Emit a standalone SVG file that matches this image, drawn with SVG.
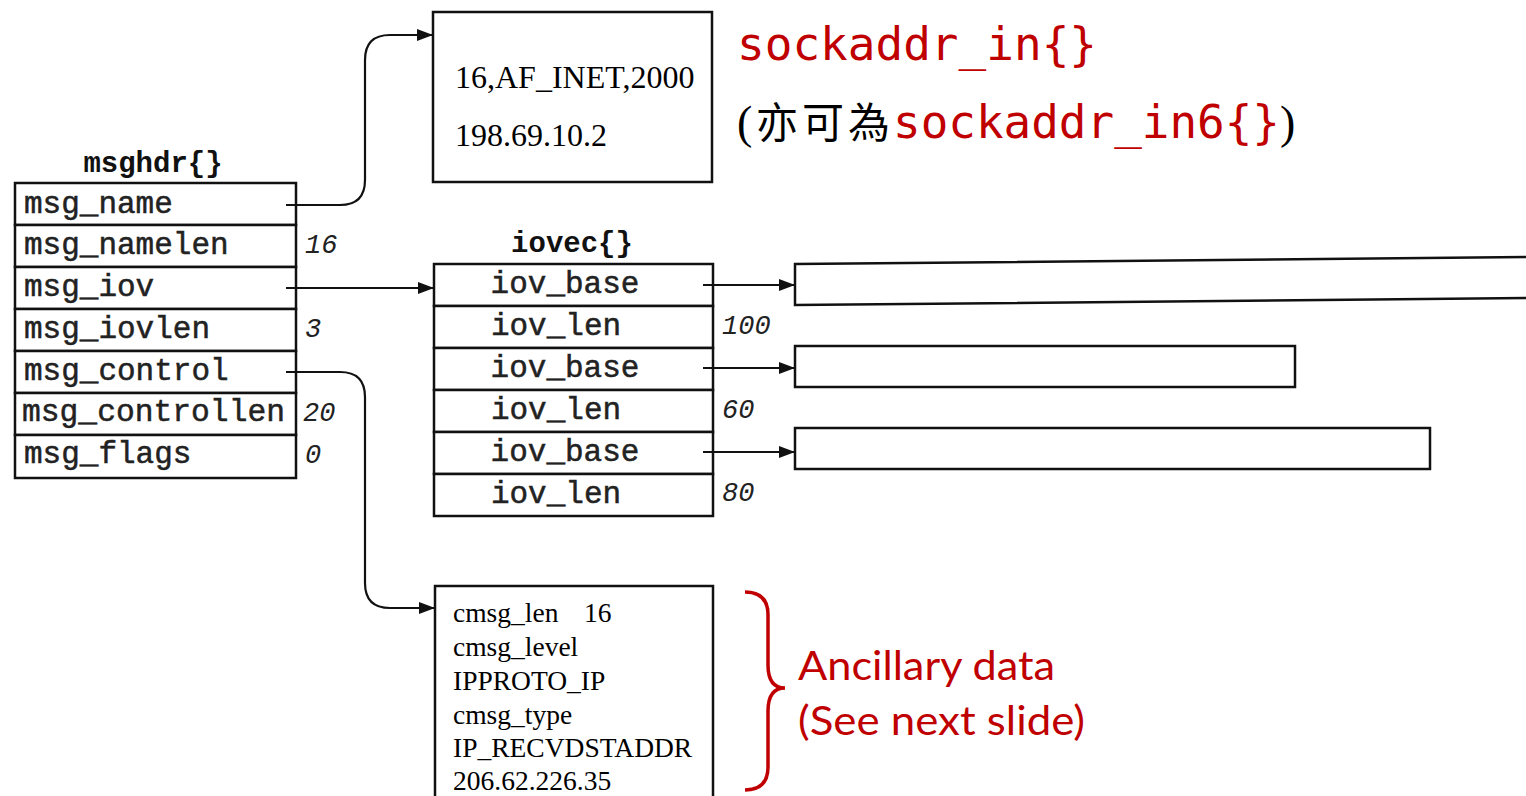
<svg xmlns="http://www.w3.org/2000/svg" width="1526" height="796" viewBox="0 0 1526 796">
<style>
.box{fill:#fff;stroke:#111;stroke-width:2.5}
.ln{fill:none;stroke:#111;stroke-width:2.2}
.fld{font-family:"Liberation Mono",monospace;font-size:31px;fill:#222;stroke:#222;stroke-width:0.5}
.ttl{font-family:"Liberation Mono",monospace;font-size:29px;font-weight:bold;fill:#111}
.val{font-family:"Liberation Mono",monospace;font-size:27px;font-style:italic;fill:#222}
.tm{font-family:"Liberation Serif",serif;fill:#000}
.red{fill:#C00000}
.mono{font-family:"DejaVu Sans Mono",monospace;font-size:46px}
.sans{font-family:"Lato","Open Sans",sans-serif;font-size:40px;fill:#C00000}
</style>
<defs>
<marker id="ah" viewBox="0 0 16 12" refX="16" refY="6" markerWidth="16" markerHeight="12" markerUnits="userSpaceOnUse" orient="auto">
<path d="M0,0 L16,6 L0,12 Z" fill="#111"/>
</marker>
</defs>

<g id="msghdr">
<text class="ttl" x="153" y="172" text-anchor="middle">msghdr{}</text>
<rect class="box" x="15" y="183" width="281" height="42"/>
<rect class="box" x="15" y="225" width="281" height="42"/>
<rect class="box" x="15" y="267" width="281" height="42"/>
<rect class="box" x="15" y="309" width="281" height="42"/>
<rect class="box" x="15" y="351" width="281" height="42"/>
<rect class="box" x="15" y="393" width="281" height="42"/>
<rect class="box" x="15" y="435" width="281" height="43"/>
<text class="fld" x="24" y="213">msg_name</text>
<text class="fld" x="24" y="254">msg_namelen</text>
<text class="fld" x="24" y="296">msg_iov</text>
<text class="fld" x="24" y="338">msg_iovlen</text>
<text class="fld" x="24" y="380">msg_control</text>
<text class="fld" x="22" y="421" textLength="263" lengthAdjust="spacingAndGlyphs">msg_controllen</text>
<text class="fld" x="24" y="463">msg_flags</text>
<text class="val" x="305" y="253">16</text>
<text class="val" x="305" y="337">3</text>
<text class="val" x="303" y="421">20</text>
<text class="val" x="305" y="463">0</text>
</g>

<g id="sockaddr">
<rect class="box" x="433" y="12" width="279" height="170"/>
<text class="tm" x="455" y="88" font-size="32">16,AF_INET,2000</text>
<text class="tm" x="455" y="146" font-size="32">198.69.10.2</text>
</g>

<g id="iovec">
<text class="ttl" x="572" y="252" text-anchor="middle">iovec{}</text>
<rect class="box" x="434" y="264" width="279" height="42"/>
<rect class="box" x="434" y="306" width="279" height="42"/>
<rect class="box" x="434" y="348" width="279" height="42"/>
<rect class="box" x="434" y="390" width="279" height="42"/>
<rect class="box" x="434" y="432" width="279" height="42"/>
<rect class="box" x="434" y="474" width="279" height="42"/>
<text class="fld" x="565" y="293" text-anchor="middle">iov_base</text>
<text class="fld" x="556" y="335" text-anchor="middle">iov_len</text>
<text class="fld" x="565" y="377" text-anchor="middle">iov_base</text>
<text class="fld" x="556" y="419" text-anchor="middle">iov_len</text>
<text class="fld" x="565" y="461" text-anchor="middle">iov_base</text>
<text class="fld" x="556" y="503" text-anchor="middle">iov_len</text>
<text class="val" x="722" y="334">100</text>
<text class="val" x="722" y="418">60</text>
<text class="val" x="722" y="501">80</text>
</g>

<g id="buf1"><path class="box" d="M795,264 L1530,257 L1530,298 L795,305 Z"/></g>
<g id="buf2"><rect class="box" x="795" y="346" width="500" height="41"/></g>
<g id="buf3"><rect class="box" x="795" y="428" width="635" height="41"/></g>

<g id="cmsg">
<rect class="box" x="435" y="586" width="278" height="215"/>
<text class="tm" font-size="27.5" x="453" y="622">cmsg_len<tspan x="584">16</tspan></text>
<text class="tm" font-size="27.5" x="453" y="656">cmsg_level</text>
<text class="tm" font-size="27.5" x="453" y="690">IPPROTO_IP</text>
<text class="tm" font-size="27.5" x="453" y="724">cmsg_type</text>
<text class="tm" font-size="27.5" x="453" y="757">IP_RECVDSTADDR</text>
<text class="tm" font-size="27.5" x="453" y="790">206.62.226.35</text>
</g>

<g id="connectors">
<path class="ln" marker-end="url(#ah)" d="M286,205 L340,205 Q365,205 365,180 L365,60 Q365,35 390,35 L433,35"/>
<path class="ln" marker-end="url(#ah)" d="M286,288 L434,288"/>
<path class="ln" marker-end="url(#ah)" d="M286,372 L340,372 Q365,372 365,397 L365,583 Q365,608 390,608 L435,608"/>
<path class="ln" marker-end="url(#ah)" d="M703,285 L795,285"/>
<path class="ln" marker-end="url(#ah)" d="M703,368 L795,368"/>
<path class="ln" marker-end="url(#ah)" d="M703,452 L795,452"/>
</g>

<g id="labels">
<text class="mono red" x="737" y="60">sockaddr_in{}</text>
<text x="737" y="138" font-size="46"><tspan font-family="Liberation Serif,serif">(</tspan><tspan font-family="Noto Sans CJK TC,sans-serif" font-size="42" x="756" textLength="134" lengthAdjust="spacing">亦可為</tspan><tspan class="red" font-family="DejaVu Sans Mono,monospace" x="893" textLength="387" lengthAdjust="spacingAndGlyphs">sockaddr_in6{}</tspan><tspan font-family="Liberation Serif,serif">)</tspan></text>
<path d="M745,592 Q768,592 768,615 L768,665 Q768,688 785,688 Q768,688 768,711 L768,767 Q768,790 745,790" fill="none" stroke="#C00000" stroke-width="3.5"/>
<text class="sans" x="798" y="680" textLength="257" lengthAdjust="spacingAndGlyphs">Ancillary data</text>
<text class="sans" x="798" y="735" textLength="287" lengthAdjust="spacingAndGlyphs">(See next slide)</text>
</g>
</svg>
